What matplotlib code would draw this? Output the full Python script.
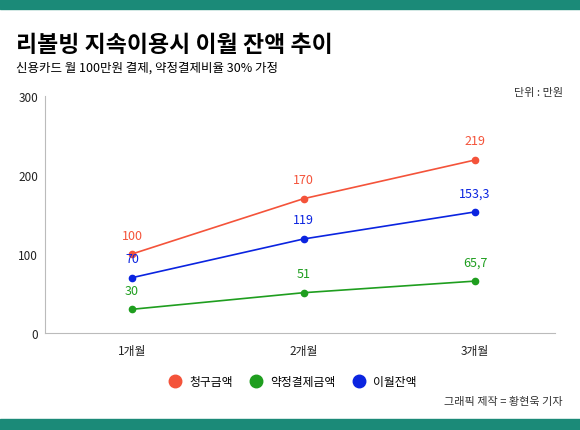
import matplotlib
matplotlib.use("Agg")
import matplotlib.pyplot as plt
from matplotlib.patches import Rectangle

plt.rcParams['font.family'] = ['Noto Sans CJK KR', 'DejaVu Sans']

categories = ["1개월", "2개월", "3개월"]
charge = [100, 170, 219]
minpay = [30, 51, 65.7]
carry = [70, 119, 153.3]
series_names = ["청구금액", "약정결제금액", "이월잔액"]
colors = ["#f4533a", "#1f9e1f", "#0b24e0"]

W, H = 580, 431
fig = plt.figure(figsize=(W/100, H/100), dpi=100)
fig.patches.append(Rectangle((0, 1-10/H), 1, 10/H, transform=fig.transFigure, color="#1b8a78"))
fig.patches.append(Rectangle((0, 0), 1, 11/H, transform=fig.transFigure, color="#1b8a78"))

fig.text(16/W, 1-45/H, "리볼빙 지속이용시 이월 잔액 추이", fontsize=16.5, fontweight="bold", va="center")
fig.text(16/W, 1-68/H, "신용카드 월 100만원 결제, 약정결제비율 30% 가정", fontsize=9, va="center")
fig.text(563/W, 1-93/H, "단위 : 만원", fontsize=8, ha="right", va="center", color="#333333")
fig.text(563/W, 1-402/H, "그래픽 제작 = 황현욱 기자", fontsize=8, ha="right", va="center", color="#333333")

ax = fig.add_axes([45/W, 1-334/H, 510/W, 237/H])
x = list(range(len(categories)))
def fmt(v):
    return (f"{v:g}").replace(".", ",")
for vals, c, name in zip([charge, minpay, carry], colors, series_names):
    ax.plot(x, vals, color=c, lw=1.2, marker="o", ms=4.5, label=name)
    for xi, v in zip(x, vals):
        ax.annotate(fmt(v), (xi, v), xytext=(0, 9), textcoords="offset points",
                    ha="center", va="bottom", color=c, fontsize=9)
ax.set_xlim(-0.507, 2.466)
ax.set_ylim(0, 300)
ax.set_yticks([0, 100, 200, 300])
ax.set_xticks(x)
ax.set_xticklabels(categories)
ax.tick_params(axis="both", length=0, labelsize=8.5, colors="#222222")
ax.tick_params(axis="y", pad=5)
ax.tick_params(axis="x", pad=8)
for s in ["top", "right"]:
    ax.spines[s].set_visible(False)
for s in ["left", "bottom"]:
    ax.spines[s].set_color("#bbbbbb")

h, l = ax.get_legend_handles_labels()
import matplotlib.lines as mlines
hs = [mlines.Line2D([], [], color=c, marker="o", ls="none", ms=9) for c in colors]
fig.legend(hs, series_names, loc="center", bbox_to_anchor=(0.5, 1-383/H), ncol=3,
           frameon=False, fontsize=8.5, handletextpad=0.2, columnspacing=1.0)
fig.savefig("out.png", dpi=100)
